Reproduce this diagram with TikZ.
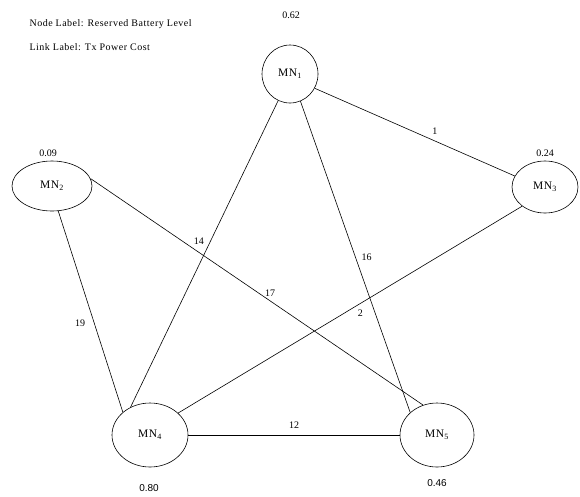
\documentclass[tikz,border=0pt]{standalone}
\usepackage{fontspec}
\setmainfont{Liberation Serif}
\newfontfamily\valfont{Liberation Sans}
\newfontfamily\spacedfont[LetterSpace=5]{Liberation Serif}
\usetikzlibrary{shapes.geometric}
\tikzset{
  mn/.style={draw, ellipse, line width=0.6pt, inner sep=0pt, font=\spacedfont\fontsize{11.5}{13}\selectfont},
  val/.style={font=\fontsize{10}{12}\selectfont},
  sval/.style={font=\valfont\fontsize{10}{12}\selectfont},
  elab/.style={font=\fontsize{10}{12}\selectfont},
  legend/.style={font=\spacedfont\fontsize{10}{12}\selectfont, anchor=west},
  link/.style={line width=0.6pt}
}
\begin{document}
\begin{tikzpicture}[x=1pt,y=-1pt]
\useasboundingbox (0,0) rectangle (580,496);
\node[legend] (l1) at (26,24) {Node Label: Reserved Battery Level};
\node[legend] (l2) at (26,47) {Link Label: Tx Power Cost};

\node[mn, minimum width=56pt, minimum height=58pt] (m1) at (290,74) {MN\textsubscript{1}};
\node[mn, minimum width=80pt, minimum height=50pt] (m2) at (52,186) {MN\textsubscript{2}};
\node[mn, minimum width=66pt, minimum height=52pt] (m3) at (545,187) {MN\textsubscript{3}};
\node[mn, minimum width=76pt, minimum height=64pt] (m4) at (150,435) {MN\textsubscript{4}};
\node[mn, minimum width=74pt, minimum height=64pt] (m5) at (437,435) {MN\textsubscript{5}};

\node[val] (v1) at (291,15) {0.62};
\node[val] (v2) at (48,153) {0.09};
\node[val] (v3) at (545,153) {0.24};
\node[sval] (v4) at (149,488) {0.80};
\node[sval] (v5) at (437,483) {0.46};

\draw[link] (m1.330) -- node[elab, pos=0.6, anchor=south, inner sep=6pt] (e13) {1} (m3.160);
\draw[link] (m1.246) -- node[elab, pos=0.46, anchor=east, inner sep=6pt] (e14) {14} (m4.125);
\draw[link] (m1.291) -- node[elab, pos=0.5, anchor=west, inner sep=6pt] (e15) {16} (m5.140);
\draw[link] (m2.284) -- node[elab, pos=0.56, anchor=east, inner sep=9pt] (e24) {19} (m4.140);
\draw[link] (m2.11) -- node[elab, pos=0.54, anchor=south, inner sep=4pt] (e25) {17} (m5.115);
\draw[link] (m3.220) -- node[elab, pos=0.47, anchor=north, inner sep=6pt] (e34) {2} (m4.38);
\draw[link] (m4.0) -- node[elab, pos=0.5, anchor=south, inner sep=6pt] (e45) {12} (m5.180);
\end{tikzpicture}
\end{document}
